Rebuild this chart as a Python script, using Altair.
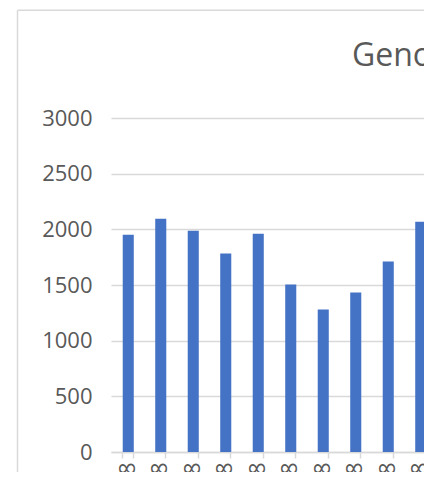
import altair as alt
import pandas as pd

categories = ["C1_8", "C2_8", "C3_8", "C4_8", "C5_8", "C6_8", "C7_8", "C8_8", "C9_8", "C10_8"]
values = [1952, 2095, 1988, 1782, 1961, 1504, 1281, 1433, 1710, 2069]
title_text = ["Genome Size"]

df = pd.DataFrame({"cat": categories, "val": values})
tdf = pd.DataFrame({"t": title_text})

FONT = "Open Sans"
GREY = "#595959"
LINE = "#d9d9d9"

bars = alt.Chart(df).mark_bar(color="#4472C4", xOffset=1).encode(
    x=alt.X("cat:N", sort=categories, title=None,
            scale=alt.Scale(paddingInner=0.66, paddingOuter=0.33, range=[0, 325]),
            axis=alt.Axis(labelAngle=-90, labelFont=FONT, labelFontSize=22,
                          labelColor=GREY, domainColor=LINE, domainWidth=1.5,
                          tickColor=LINE, tickWidth=1.5, tickSize=6, tickBand="extent",
                          labelPadding=4, grid=False)),
    y=alt.Y("val:Q", title=None,
            scale=alt.Scale(domain=[0, 3000], nice=False),
            axis=alt.Axis(values=[0, 500, 1000, 1500, 2000, 2500, 3000], format="d",
                          labelFont=FONT, labelFontSize=22, labelColor=GREY,
                          ticks=False, domain=False, labelPadding=19,
                          gridColor=LINE, gridWidth=1.5)),
)

title = alt.Chart(tdf).mark_text(font=FONT, fontSize=32, color=GREY, align="left",
                                  baseline="alphabetic").encode(
    text="t:N", x=alt.value(241), y=alt.value(-51.7))

border_v = alt.Chart(tdf).mark_rule(color=LINE, strokeWidth=1.5).encode(
    x=alt.value(-93.5), y=alt.value(-107.7), y2=alt.value(420))
border_h = alt.Chart(tdf).mark_rule(color=LINE, strokeWidth=1.5).encode(
    y=alt.value(-107.7), x=alt.value(-93.5), x2=alt.value(340))

chart = alt.layer(border_v, border_h, bars, title).properties(
    width=313, height=334,
    background="white",
    autosize=alt.AutoSizeParams(type="none"),
    padding={"left": 103, "top": 110, "right": 0, "bottom": 20},
).configure_view(strokeWidth=0, stroke="transparent")

chart.save("out.html", embed_options={"renderer": "svg", "actions": False})
